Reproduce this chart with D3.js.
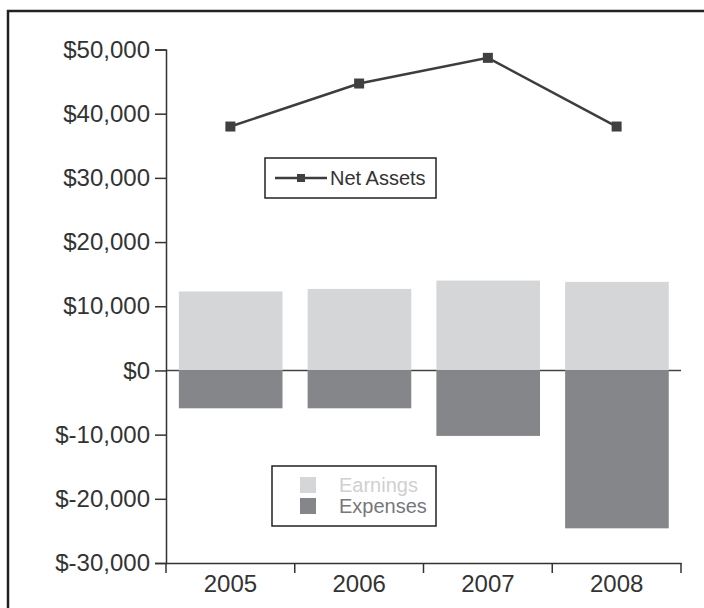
<!DOCTYPE html>
<html>
<head>
<meta charset="utf-8">
<script src="https://cdn.jsdelivr.net/npm/d3@7"></script>
<style>
  body { margin: 0; background: #fff; }
  text { font-family: "Liberation Sans", Arial, sans-serif; }
</style>
</head>
<body>
<div id="chart"></div>
<script>
const years = ["2005", "2006", "2007", "2008"];
const earnings = [12300, 12700, 14000, 13800];
const expenses = [-5900, -5900, -10200, -24600];
const netAssets = [38000, 44700, 48700, 38000];
const yTicks = [-30000, -20000, -10000, 0, 10000, 20000, 30000, 40000, 50000];

const WIDTH = 704;
const HEIGHT = 608;

const svg = d3.select("#chart").append("svg")
  .attr("width", WIDTH)
  .attr("height", HEIGHT);

// marco (solo se ven los bordes izquierdo y superior)
svg.append("rect")
  .attr("x", 8).attr("y", 11)
  .attr("width", WIDTH + 20).attr("height", HEIGHT + 20)
  .attr("fill", "#fff")
  .attr("stroke", "#222")
  .attr("stroke-width", 2.5);

const x = d3.scaleBand().domain(years).range([166, 681]);
const y = d3.scaleLinear().domain([-30000, 50000]).range([563, 49.5]);

const fmt = d => d < 0 ? "$-" + d3.format(",")(-d) : "$" + d3.format(",")(d);

// linea del cero, detras de las barras
svg.append("line")
  .attr("x1", 166).attr("x2", 681)
  .attr("y1", y(0)).attr("y2", y(0))
  .attr("stroke", "#444").attr("stroke-width", 1.5);

const barX = d => x(d) + x.bandwidth() * 0.1;
const barW = x.bandwidth() * 0.805;

svg.selectAll(".earn")
  .data(years)
  .join("rect")
  .attr("class", "earn")
  .attr("x", d => barX(d))
  .attr("width", barW)
  .attr("y", (d, i) => y(earnings[i]))
  .attr("height", (d, i) => y(0) - y(earnings[i]))
  .attr("fill", "#d5d6d8");

svg.selectAll(".exp")
  .data(years)
  .join("rect")
  .attr("class", "exp")
  .attr("x", d => barX(d))
  .attr("width", barW)
  .attr("y", y(0))
  .attr("height", (d, i) => y(expenses[i]) - y(0))
  .attr("fill", "#85868a");

// eje y
const yAxis = svg.append("g")
  .attr("transform", "translate(166,0)")
  .call(d3.axisLeft(y).tickValues(yTicks).tickFormat(fmt).tickSize(11).tickPadding(5));
yAxis.selectAll("text").attr("font-size", 24).attr("fill", "#333")
  .style("font-family", "'Liberation Sans', Arial, sans-serif");
yAxis.selectAll("line, path").attr("stroke", "#333").attr("stroke-width", 1.5);

// eje x: etiquetas centradas, marcas en los limites de cada año
const xAxis = svg.append("g")
  .attr("transform", "translate(0,563)")
  .call(d3.axisBottom(x).tickSize(0).tickPadding(12));
xAxis.select(".domain").attr("stroke", "#333").attr("stroke-width", 1.5);
xAxis.selectAll("text").attr("font-size", 24).attr("fill", "#333")
  .style("font-family", "'Liberation Sans', Arial, sans-serif");

const edges = years.map(d => x(d)).concat([x.range()[1]]);
svg.selectAll(".xtick")
  .data(edges)
  .join("line")
  .attr("class", "xtick")
  .attr("x1", d => d).attr("x2", d => d)
  .attr("y1", 563).attr("y2", 573)
  .attr("stroke", "#333").attr("stroke-width", 1.5);

// linea Net Assets
const cx = d => x(d) + x.bandwidth() / 2;
const line = d3.line()
  .x((d, i) => cx(years[i]))
  .y(d => y(d));

svg.append("path")
  .datum(netAssets)
  .attr("d", line)
  .attr("fill", "none")
  .attr("stroke", "#3d3d3d")
  .attr("stroke-width", 2.5);

svg.selectAll(".marker")
  .data(netAssets)
  .join("rect")
  .attr("class", "marker")
  .attr("x", (d, i) => cx(years[i]) - 5)
  .attr("y", d => y(d) - 5)
  .attr("width", 10).attr("height", 10)
  .attr("fill", "#404040");

// leyenda Net Assets
const leg1 = svg.append("g").attr("transform", "translate(265,158)");
leg1.append("rect")
  .attr("width", 171).attr("height", 40)
  .attr("fill", "#fff").attr("stroke", "#222").attr("stroke-width", 1.5);
leg1.append("line")
  .attr("x1", 10).attr("x2", 62).attr("y1", 20).attr("y2", 20)
  .attr("stroke", "#3d3d3d").attr("stroke-width", 2.5);
leg1.append("rect")
  .attr("x", 32).attr("y", 16).attr("width", 8).attr("height", 8)
  .attr("fill", "#404040");
leg1.append("text")
  .attr("x", 65).attr("y", 27)
  .attr("font-size", 20).attr("fill", "#333")
  .text("Net Assets");

// leyenda barras
const leg2 = svg.append("g").attr("transform", "translate(272,466)");
leg2.append("rect")
  .attr("width", 164).attr("height", 60)
  .attr("fill", "#fff").attr("stroke", "#222").attr("stroke-width", 1.5);
const legItems = [["Earnings", "#d5d6d8", "#cfd0d2"], ["Expenses", "#85868a", "#76777b"]];
legItems.forEach((it, i) => {
  leg2.append("rect")
    .attr("x", 28).attr("y", 11 + i * 21)
    .attr("width", 16).attr("height", 16)
    .attr("fill", it[1]);
  leg2.append("text")
    .attr("x", 67).attr("y", 26 + i * 21)
    .attr("font-size", 20).attr("fill", it[2])
    .text(it[0]);
});
</script>
</body>
</html>
